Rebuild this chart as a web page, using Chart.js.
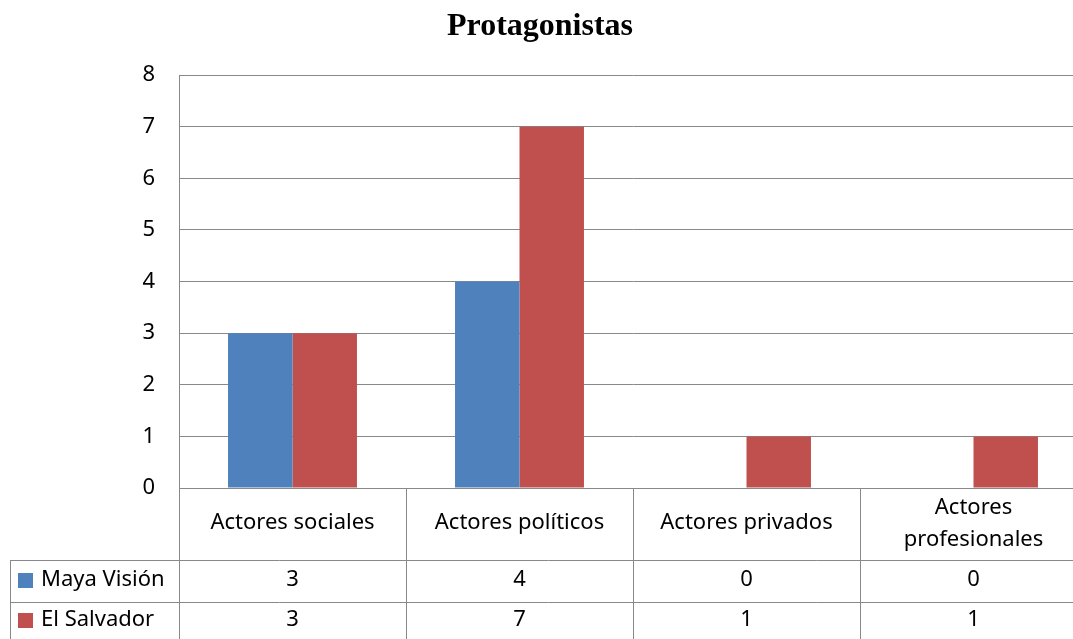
<!DOCTYPE html>
<html>
<head>
<meta charset="utf-8">
<script src="https://cdn.jsdelivr.net/npm/chart.js@4/dist/chart.umd.min.js"></script>
<style>
    html, body { margin: 0; padding: 0; background: #fff; overflow: hidden; }
    canvas { display: block; }
</style>
</head>
<body>
<canvas id="chart" width="1090" height="639"></canvas>
<script>
// datos del gráfico
const chartTitle = 'Protagonistas';
const categories = ['Actores sociales', 'Actores políticos', 'Actores privados', ['Actores', 'profesionales']];
const seriesNames = ['Maya Visión', 'El Salvador'];
const mayaVision = [3, 4, 0, 0];
const elSalvador = [3, 7, 1, 1];
const seriesColors = ['#4F81BD', '#C0504D'];

const LINE = '#898989';
const FONT = '"Noto Sans", "Open Sans", sans-serif';

// tabla de datos bajo el eje (estilo Excel)
const dataTablePlugin = {
    id: 'dataTable',
    afterDraw(chart) {
        const ctx = chart.ctx;
        const area = chart.chartArea;
        const xs = chart.scales.x;
        const n = categories.length;
        const step = (area.right - area.left) / n;
        const rowHead = 560, row1 = 602, rowEnd = 650;
        const leftEdge = 10;

        ctx.save();
        ctx.strokeStyle = LINE;
        ctx.lineWidth = 1;
        ctx.beginPath();
        // líneas horizontales
        ctx.moveTo(leftEdge, rowHead + 0.5); ctx.lineTo(area.right, rowHead + 0.5);
        ctx.moveTo(leftEdge, row1 + 0.5); ctx.lineTo(area.right, row1 + 0.5);
        // borde izquierdo
        ctx.moveTo(leftEdge + 0.5, rowHead); ctx.lineTo(leftEdge + 0.5, rowEnd);
        // líneas verticales
        for (let i = 0; i <= n; i++) {
            const x = Math.round(area.left + i * step) + 0.5;
            ctx.moveTo(x, area.bottom); ctx.lineTo(x, rowEnd);
        }
        ctx.stroke();

        ctx.fillStyle = '#000';
        ctx.font = '22px ' + FONT;
        ctx.textAlign = 'center';
        ctx.textBaseline = 'middle';

        // encabezados de categorías
        categories.forEach((cat, i) => {
            const cx = xs.getPixelForValue(i);
            if (Array.isArray(cat)) {
                ctx.fillText(cat[0], cx, 508);
                ctx.fillText(cat[1], cx, 540);
            } else {
                ctx.fillText(cat, cx, 523);
            }
        });

        // filas de valores
        const rows = [mayaVision, elSalvador];
        const rowY = [580, 620];
        rows.forEach((vals, r) => {
            vals.forEach((v, i) => {
                ctx.fillText(String(v), xs.getPixelForValue(i), rowY[r]);
            });
            // leyenda
            ctx.fillStyle = seriesColors[r];
            ctx.fillRect(18, rowY[r] - 7, 15, 15);
            ctx.fillStyle = '#000';
            ctx.textAlign = 'left';
            ctx.fillText(seriesNames[r], 41, rowY[r]);
            ctx.textAlign = 'center';
        });

        // título
        ctx.font = 'bold 32px "Liberation Serif", "Times New Roman", serif';
        ctx.fillText(chartTitle, 540, 27);
        ctx.restore();
    }
};

new Chart(document.getElementById('chart').getContext('2d'), {
    type: 'bar',
    data: {
        labels: categories.map(c => Array.isArray(c) ? c.join(' ') : c),
        datasets: [
            { label: seriesNames[0], data: mayaVision, backgroundColor: seriesColors[0], borderWidth: 0 },
            { label: seriesNames[1], data: elSalvador, backgroundColor: seriesColors[1], borderWidth: 0 }
        ]
    },
    options: {
        responsive: false,
        animation: false,
        layout: { padding: { top: 75, right: 3, bottom: 151, left: 0 } },
        datasets: { bar: { barPercentage: 1, categoryPercentage: 0.568 } },
        plugins: {
            legend: { display: false },
            title: { display: false },
            tooltip: { enabled: false }
        },
        scales: {
            x: {
                display: false,
                grid: { display: false }
            },
            y: {
                min: 0,
                max: 8,
                ticks: {
                    stepSize: 1,
                    color: '#000',
                    padding: 24,
                    font: { size: 22, family: FONT }
                },
                grid: { color: LINE, drawTicks: false },
                border: { color: LINE },
                afterFit(scale) { scale.width = 179; }
            }
        }
    },
    plugins: [dataTablePlugin]
});
</script>
</body>
</html>
